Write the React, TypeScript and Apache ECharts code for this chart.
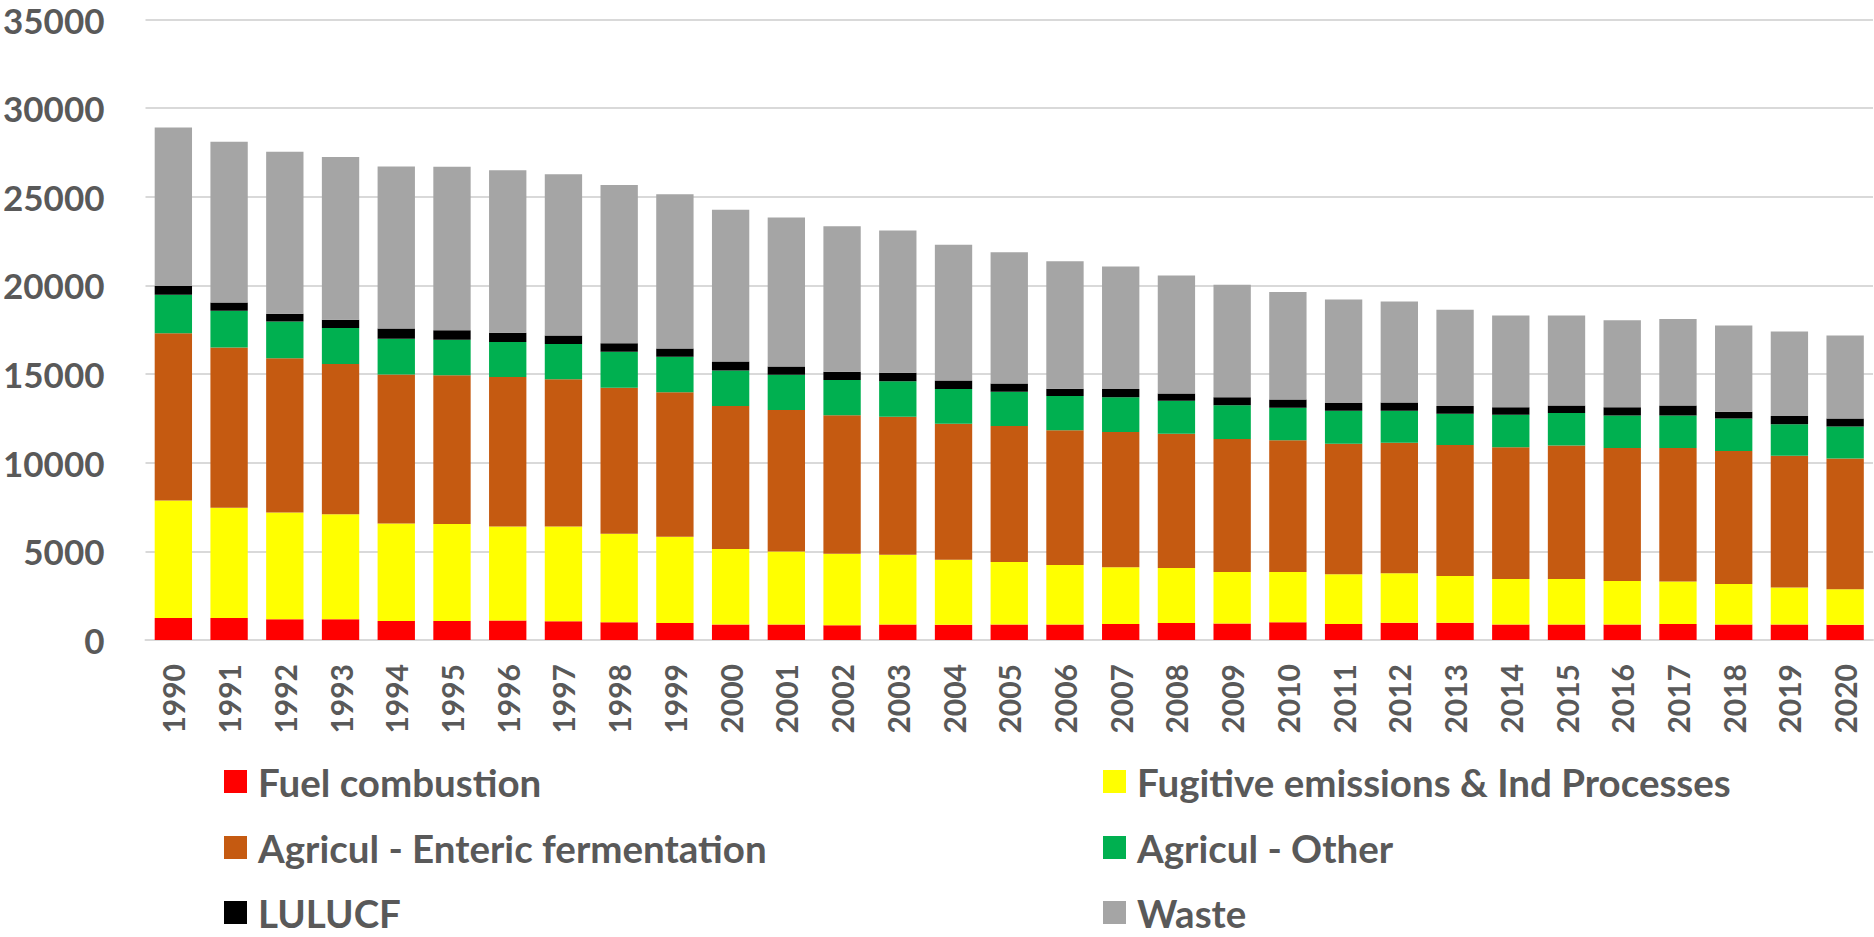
import React, { useEffect, useRef } from "react";
import * as echarts from "echarts";

const years = [
  "1990","1991","1992","1993","1994","1995","1996","1997","1998","1999",
  "2000","2001","2002","2003","2004","2005","2006","2007","2008","2009",
  "2010","2011","2012","2013","2014","2015","2016","2017","2018","2019","2020",
];

const fuelCombustion = [1246,1246,1173,1173,1075,1075,1100,1051,1002,953,880,880,831,880,855,880,880,904,953,929,1002,904,978,978,880,880,880,904,880,880,855];
const fugitiveInd = [6624,6208,6012,5915,5499,5475,5303,5352,4986,4864,4252,4106,4033,3935,3666,3519,3348,3202,3104,2908,2835,2811,2786,2639,2566,2566,2444,2395,2273,2077,2004];
const entericFermentation = [9433,9043,8701,8480,8408,8383,8432,8310,8236,8163,8066,7992,7820,7772,7675,7674,7601,7625,7576,7503,7430,7356,7356,7381,7430,7528,7503,7528,7503,7430,7381];
const agriculOther = [2176,2077,2077,2029,2004,2004,1980,1980,2029,2004,2004,1979,1980,2004,1955,1931,1931,1955,1858,1906,1833,1858,1809,1760,1833,1833,1833,1833,1833,1784,1809];
const lulucf = [488,465,440,464,586,538,513,488,488,464,513,465,464,488,489,464,415,465,415,440,464,440,464,440,415,415,464,562,391,465,440];
const waste = [8946,9067,9141,9190,9141,9213,9165,9092,8921,8701,8554,8407,8212,8017,7649,7406,7186,6916,6648,6355,6061,5841,5695,5425,5182,5084,4913,4888,4863,4765,4692];

const seriesDefs = [
  { name: "Fuel combustion", data: fuelCombustion, color: "#FF0000" },
  { name: "Fugitive emissions & Ind Processes", data: fugitiveInd, color: "#FFFF00" },
  { name: "Agricul - Enteric fermentation", data: entericFermentation, color: "#C55A11" },
  { name: "Agricul - Other", data: agriculOther, color: "#00B050" },
  { name: "LULUCF", data: lulucf, color: "#000000" },
  { name: "Waste", data: waste, color: "#A5A5A5" },
];

const FONT = "Lato, 'Open Sans', sans-serif";
const TEXT = "#595959";

export default function App() {
  const ref = useRef<HTMLDivElement>(null);
  useEffect(() => {
    if (!ref.current) return;
    const chart = echarts.init(ref.current, undefined, { renderer: "svg" });
    const legendCommon = {
      orient: "horizontal",
      icon: "rect",
      itemWidth: 23,
      itemHeight: 23,
      padding: 0,
      selectedMode: false,
      textStyle: {
        fontFamily: FONT,
        fontWeight: "bold",
        fontSize: 38.5,
        color: TEXT,
        lineHeight: 36,
        padding: [0, 0, 0, 6],
      },
    };
    const colLeft = [224, 1103];
    const rowTop = [762, 828, 893];
    const legends = seriesDefs.map((s, i) => ({
      ...legendCommon,
      left: colLeft[i % 2],
      top: rowTop[Math.floor(i / 2)],
      data: [s.name],
    }));
    chart.setOption({
      animation: false,
      backgroundColor: "#ffffff",
      grid: { left: 143, right: 1, top: 19.5, bottom: 297 },
      legend: legends,
      xAxis: {
        type: "category",
        data: years,
        axisLine: { show: true, lineStyle: { color: "#D9D9D9", width: 2 } },
        axisTick: { show: false },
        axisLabel: {
          rotate: 90,
          margin: 24,
          interval: 0,
          fontFamily: FONT,
          fontWeight: "bold",
          fontSize: 30,
          color: TEXT,
        },
      },
      yAxis: {
        type: "value",
        min: 0,
        max: 35000,
        interval: 5000,
        axisLine: { show: false },
        axisTick: { show: false },
        splitLine: { lineStyle: { color: "#D9D9D9", width: 2 } },
        axisLabel: {
          margin: 41,
          fontFamily: FONT,
          fontWeight: "bold",
          fontSize: 35,
          color: TEXT,
          formatter: (v: number) => String(v),
        },
      },
      series: seriesDefs.map((s) => ({
        name: s.name,
        type: "bar",
        stack: "total",
        data: s.data,
        barCategoryGap: "33%",
        itemStyle: { color: s.color },
      })),
    });
    return () => chart.dispose();
  }, []);
  return (
    <div
      ref={ref}
      style={{ position: "fixed", left: 0, top: 0, width: 1874, height: 937, background: "#fff" }}
    />
  );
}
